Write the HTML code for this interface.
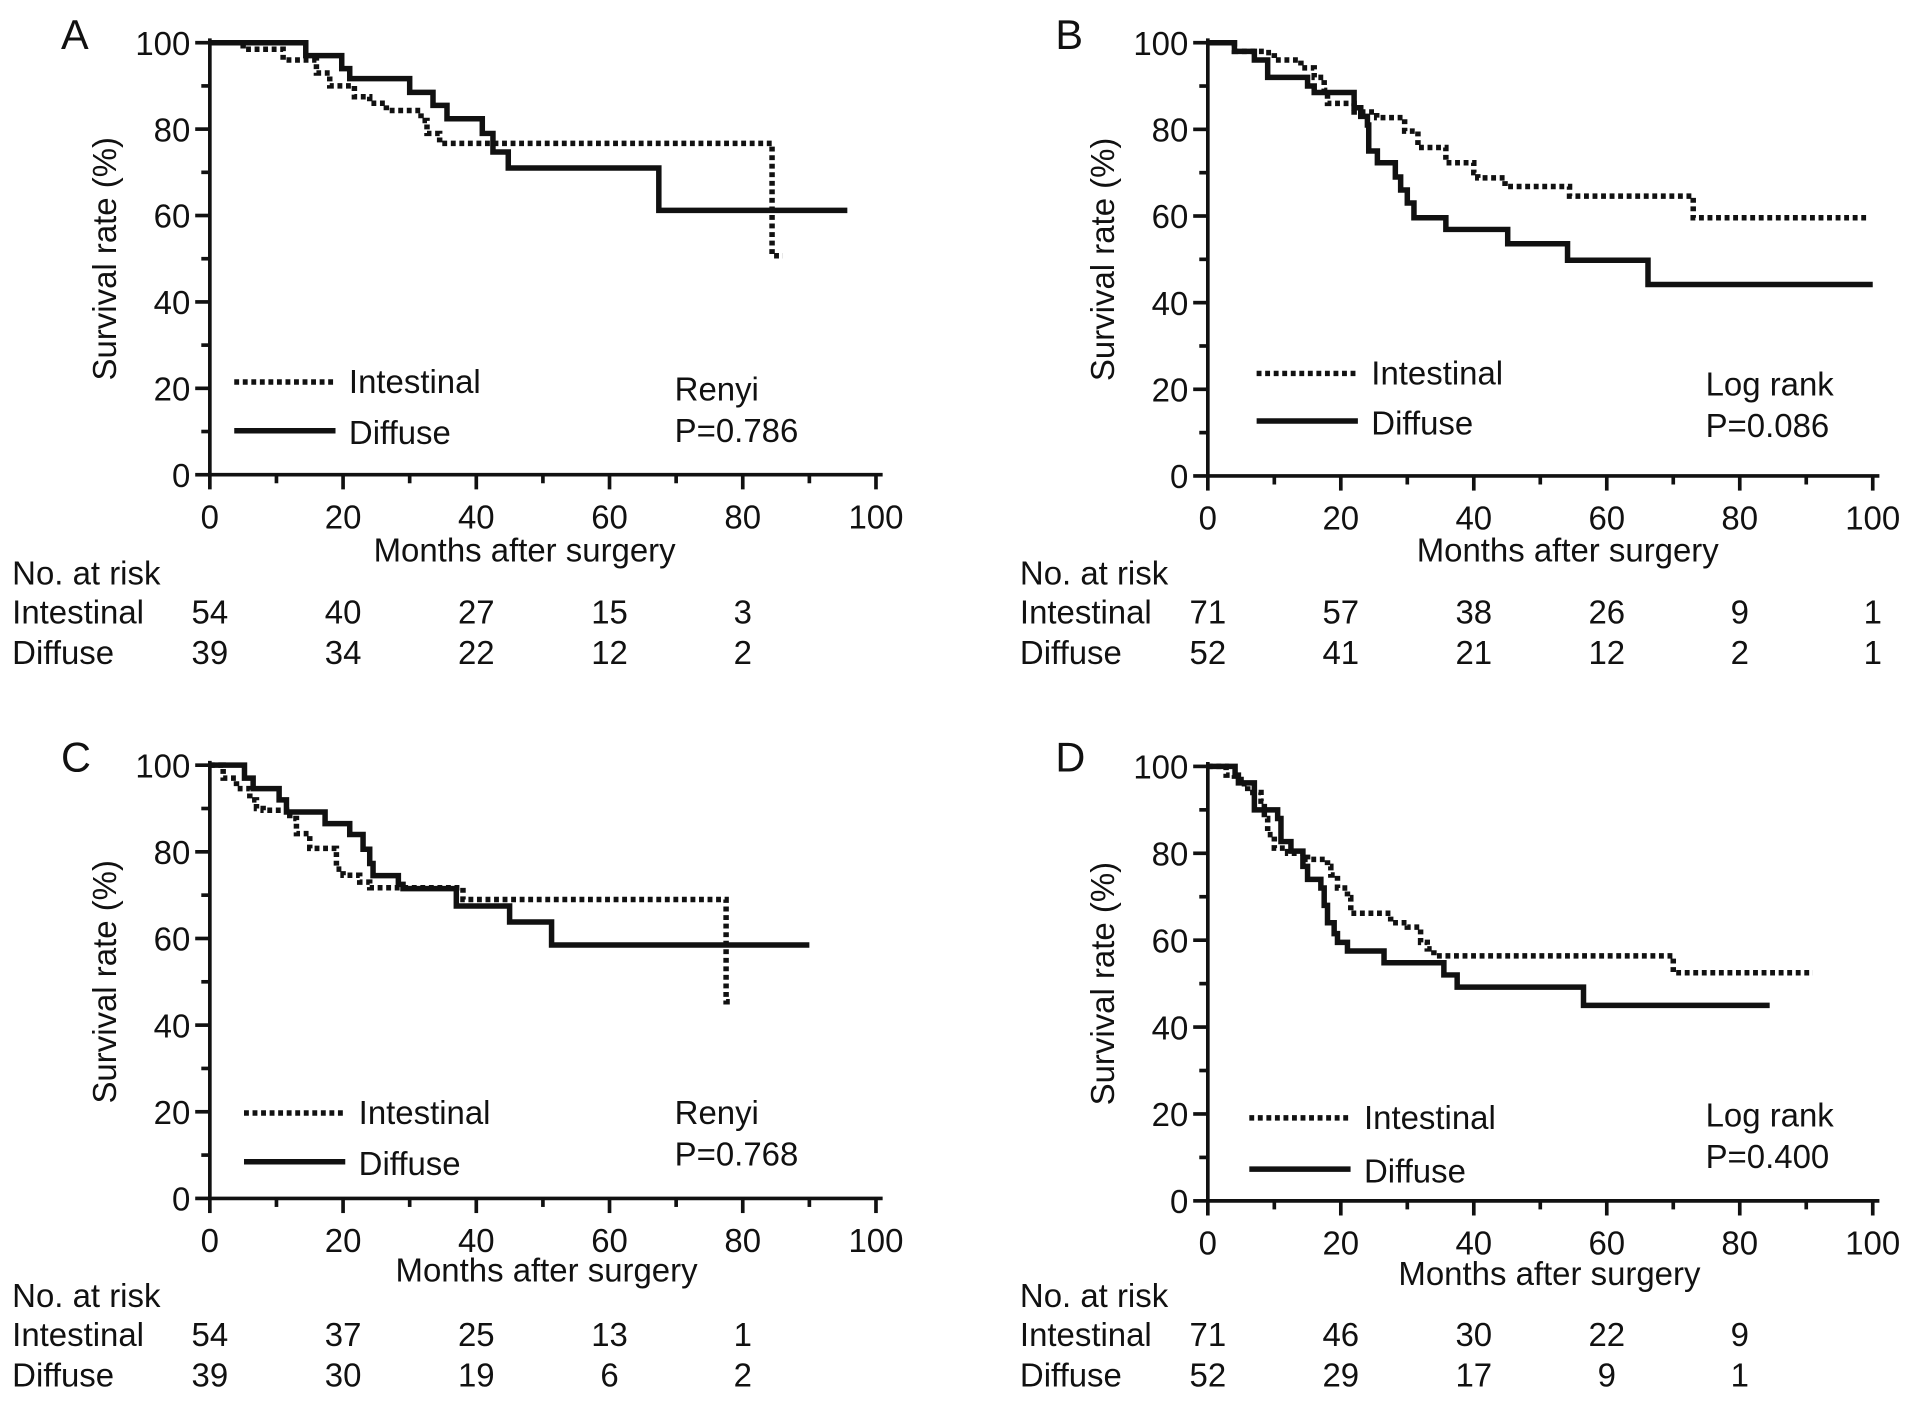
<!DOCTYPE html>
<html><head><meta charset="utf-8"><style>
html,body{margin:0;padding:0;background:#fff;}
svg{display:block;font-family:"Liberation Sans",Arial,sans-serif;}
</style></head><body>
<svg id="fig" width="1913" height="1401" viewBox="0 0 1568 1148" preserveAspectRatio="none" xmlns="http://www.w3.org/2000/svg"></svg>
<script>
// Panel A data (months, survival %)
const aIntT = [0,5,11,16,18,21.7,24,26.5,31.7,32.6,34.5,84.4,86];
const aIntS = [100,98.5,96,93,90,87.5,86,84.3,82,79,76.7,50.7,50.7];
const aDifT = [0,14.4,19.8,21,30,33.5,35.6,40.9,42.5,44.8,67.4,95.7];
const aDifS = [100,97,94,91.7,88.5,85.5,82.4,79,74.7,71,61.2,61.2];
const aRiskInt = ["54","40","27","15","3"];
const aRiskDif = ["39","34","22","12","2"];
// Panel B data
const bIntT = [0,4,8.5,10,14,16,17.5,18,22,25.4,29.6,31.6,35.8,40,40.6,44.7,54.4,73,99];
const bIntS = [100,98,97.7,96,94.2,92,89,86,84,82.7,79.6,75.8,72.3,70,68.8,66.8,64.6,59.6,59.6];
const bDifT = [0,4,7,9,15,16,22,23,24,24.2,25.5,28.2,29,30,31,35.8,45.1,54.1,66.2,100];
const bDifS = [100,98,96,92,90,88.5,85,83,81,75,72.3,69,66,63,59.6,56.9,53.6,49.8,44.2,44.2];
const bRiskInt = ["71","57","38","26","9","1"];
const bRiskDif = ["52","41","21","12","2","1"];
// Panel C data
const cIntT = [0,2,4,6,7,8,12,13,15,19,20,22.5,24,38,77.5,78.5];
const cIntS = [100,97,94.6,92,90,89.6,87.7,84.2,80.8,76,74.6,73,71.7,69,45.4,45.4];
const cDifT = [0,5.2,6.5,10.4,11.5,17.3,21,23,24,24.5,28.3,29,37,45,51.3,90];
const cDifS = [100,97,94.6,92,89.2,86.5,84,80.6,77.3,74.5,72.5,71.5,67.5,63.8,58.5,58.5];
const cRiskInt = ["54","37","25","13","1"];
const cRiskDif = ["39","30","19","6","2"];
// Panel D data
const dIntT = [0,2.75,4,5,6,8,8.5,9,10,12,15,18,18.5,19.5,21,21.5,27.5,30,32,33,34,70,91];
const dIntS = [100,98,97,96,94,92,88,84.3,81.2,80,78.6,77,75,72,69.8,66.2,64,63,59.5,58,56.4,52.5,52.5];
const dDifT = [0,4.1,4.6,7,10.5,11,12.5,14.3,15,17,17.5,18,19,19.5,21,26.5,35.5,37.5,56.5,84.5];
const dDifS = [100,98,96.2,90,88,82.7,80.5,77,74,72,68,64,61.5,59.5,57.5,54.8,52,49.2,45,45];
const dRiskInt = ["71","46","30","22","9"];
const dRiskDif = ["52","29","17","9","1"];
const xTicks = [0,20,40,60,80,100];
const yTicks = [0,20,40,60,80,100];

const NS="http://www.w3.org/2000/svg";
const svg=document.getElementById('fig');
const FS=27;
function mk(tag,attrs,parent){const e=document.createElementNS(NS,tag);for(const k in attrs)e.setAttribute(k,attrs[k]);(parent||svg).appendChild(e);return e;}
function txt(s,x,y,size,anchor,parent){const t=mk('text',{x:x,y:y,'font-size':size,'text-anchor':anchor||'start',fill:'#111'},parent);t.textContent=s;return t;}

function panel(p){
  const g=mk('g',{});
  
  
  const X=v=>p.x0+(p.x1-p.x0)*v/100;
  const Y=v=>p.y0+(p.y1-p.y0)*v/100;
  const L=txt(p.id,p.lx,p.ly,34,'start',g);
  
  
  const ax=mk('path',{d:`M${X(0)},${Y(101)} L${X(0)},${Y(0)} L${X(101)},${Y(0)}`,fill:'none',stroke:'#111','stroke-width':3},g);
  
  
  for(let v=0;v<=100;v+=10){
    const maj=v%20===0;
    mk('line',{x1:X(0),x2:X(0)-(maj?12:7),y1:Y(v),y2:Y(v),stroke:'#111','stroke-width':3},g);
    mk('line',{x1:X(v),x2:X(v),y1:Y(0),y2:Y(0)+(maj?12:7),stroke:'#111','stroke-width':3},g);
  }
  yTicks.forEach(v=>{const t=txt(String(v),X(0)-16,Y(v)+10,FS,'end',g);
    
    });
  xTicks.forEach(v=>{const t=txt(String(v),X(v),Y(0)+44,FS,'middle',g);
    
    });
  const yt=txt('Survival rate (%)',0,0,FS,'middle',g);
  yt.setAttribute('transform',`translate(${p.ytx},${(Y(0)+Y(100))/2}) rotate(-90)`);
  
  
  const xt=txt('Months after surgery',p.xtx,p.xty,FS,'middle',g);
  
  
  function step(T,S){let d=`M${X(T[0])},${Y(S[0])}`;for(let i=1;i<T.length;i++){d+=` L${X(T[i])},${Y(S[i-1])} L${X(T[i])},${Y(S[i])}`;}return d;}
  const c1=mk('path',{d:step(p.intT,p.intS),fill:'none',stroke:'#111','stroke-width':4.5,'stroke-dasharray':'4 3'},g);
  
  
  const c2=mk('path',{d:step(p.difT,p.difS),fill:'none',stroke:'#111','stroke-width':4.5},g);
  
  
  const l1=mk('line',{x1:p.lgx,x2:p.lgx+83,y1:p.lgy1,y2:p.lgy1,stroke:'#111','stroke-width':4.5,'stroke-dasharray':'4 3'},g);
  
  
  const lt1=txt('Intestinal',p.lgx+94,p.lgy1+9,FS,'start',g);
  
  
  const l2=mk('line',{x1:p.lgx,x2:p.lgx+83,y1:p.lgy2,y2:p.lgy2,stroke:'#111','stroke-width':4.5},g);
  
  
  const lt2=txt('Diffuse',p.lgx+94,p.lgy2+11,FS,'start',g);
  
  
  const s1=txt(p.test,p.tx,p.ty,FS,'start',g);
  
  
  const s2=txt(p.pval,p.tx,p.ty+34,FS,'start',g);
  
  
  const r0=txt('No. at risk',p.rx,p.rb,FS,'start',g);
  
  
  const r1=txt('Intestinal',p.rx,p.rb+32,FS,'start',g);
  
  
  const r2=txt('Diffuse',p.rx,p.rb+65,FS,'start',g);
  
  
  p.riskInt.forEach((v,i)=>{const t=txt(v,X(xTicks[i]),p.rb+32,FS,'middle',g);
    
    });
  p.riskDif.forEach((v,i)=>{const t=txt(v,X(xTicks[i]),p.rb+65,FS,'middle',g);
    
    });
}
panel({id:'A',x0:172,x1:718,y0:389,y1:35,lx:50,ly:40,ytx:95,xtx:430,xty:460,
  intT:aIntT,intS:aIntS,difT:aDifT,difS:aDifS,lgx:192,lgy1:313,lgy2:353,test:'Renyi',pval:'P=0.786',tx:553,ty:328,
  rx:10,rb:479,riskInt:aRiskInt,riskDif:aRiskDif});
panel({id:'B',x0:990,x1:1535,y0:390,y1:35,lx:865,ly:40,ytx:913,xtx:1285,xty:460,
  intT:bIntT,intS:bIntS,difT:bDifT,difS:bDifS,lgx:1030,lgy1:306,lgy2:345,test:'Log rank',pval:'P=0.086',tx:1398,ty:324,
  rx:836,rb:479,riskInt:bRiskInt,riskDif:bRiskDif});
panel({id:'C',x0:172,x1:718,y0:982,y1:627,lx:50,ly:632,ytx:95,xtx:448,xty:1050,
  intT:cIntT,intS:cIntS,difT:cDifT,difS:cDifS,lgx:200,lgy1:912,lgy2:952,test:'Renyi',pval:'P=0.768',tx:553,ty:921,
  rx:10,rb:1071,riskInt:cRiskInt,riskDif:cRiskDif});
panel({id:'D',x0:990,x1:1535,y0:984,y1:628,lx:865,ly:632,ytx:913,xtx:1270,xty:1053,
  intT:dIntT,intS:dIntS,difT:dDifT,difS:dDifS,lgx:1024,lgy1:916,lgy2:958,test:'Log rank',pval:'P=0.400',tx:1398,ty:923,
  rx:836,rb:1071,riskInt:dRiskInt,riskDif:dRiskDif});
</script>
</body></html>
